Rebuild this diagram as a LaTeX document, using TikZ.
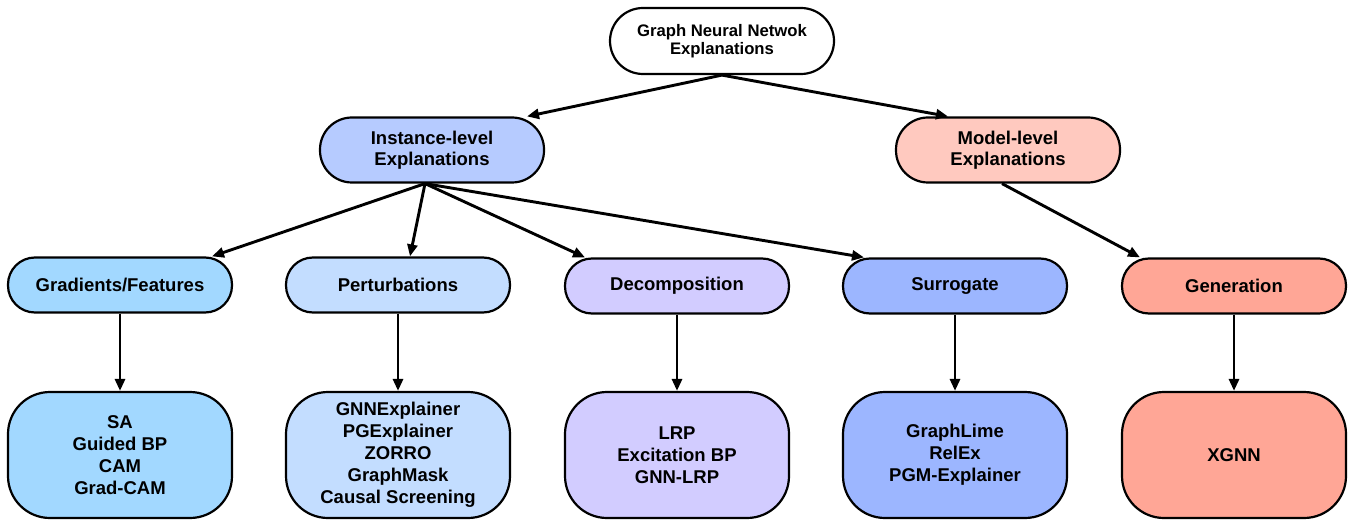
\documentclass[tikz,border=0pt]{standalone}
\usepackage{fontspec}
\setmainfont{Liberation Sans}
\usetikzlibrary{arrows.meta}
\definecolor{cInst}{HTML}{B6CBFF}
\definecolor{cModel}{HTML}{FFC9BF}
\definecolor{cGrad}{HTML}{A2D8FF}
\definecolor{cPert}{HTML}{C3DDFF}
\definecolor{cDec}{HTML}{D2CCFF}
\definecolor{cSur}{HTML}{9CB6FF}
\definecolor{cGen}{HTML}{FFA696}
\tikzset{
  box/.style={draw=black, line width=2.2pt, minimum width=224pt, align=center,
    font=\fontsize{18.5}{22}\selectfont\bfseries, inner sep=0pt},
  topbox/.style={box, minimum height=66pt, rounded corners=33pt,
    font=\fontsize{16.7}{18.5}\selectfont\bfseries},
  midbox/.style={box, minimum height=65pt, rounded corners=32pt,
    font=\fontsize{18.5}{21}\selectfont\bfseries},
  catbox/.style={box, minimum height=55pt, rounded corners=27pt},
  leafbox/.style={box, minimum height=126pt, rounded corners=42pt},
  conn/.style={line width=2.9pt, -{Triangle[length=12pt,width=10pt]}},
}
\begin{document}
\begin{tikzpicture}[x=1pt,y=-1pt]
\useasboundingbox (0,0) rectangle (1348,521);
\node[topbox, fill=white] (top) at (722,41) {Graph Neural Netwok\\Explanations};
\node[midbox, fill=cInst] (inst) at (432,150) {Instance-level\\Explanations};
\node[midbox, fill=cModel] (model) at (1008,150) {Model-level\\Explanations};

\node[catbox, fill=cGrad] (grad) at (120,285) {Gradients/Features};
\node[catbox, fill=cPert] (pert) at (398,285) {Perturbations};
\node[catbox, fill=cDec] (dec) at (677,286) {Decomposition};
\node[catbox, fill=cSur] (sur) at (955,286) {Surrogate};
\node[catbox, fill=cGen] (gen) at (1234,286) {Generation};

\node[leafbox, fill=cGrad] (gradl) at (120,455) {SA\\Guided BP\\CAM\\Grad-CAM};
\node[leafbox, fill=cPert] (pertl) at (398,455) {GNNExplainer\\PGExplainer\\ZORRO\\GraphMask\\Causal Screening};
\node[leafbox, fill=cDec] (decl) at (677,455) {LRP\\Excitation BP\\GNN-LRP};
\node[leafbox, fill=cSur] (surl) at (955,455) {GraphLime\\RelEx\\PGM-Explainer};
\node[leafbox, fill=cGen] (genl) at (1234,455) {XGNN};

\draw[conn] (top.south) -- ([xshift=95pt]inst.north);
\draw[conn] (top.south) -- ([xshift=-60pt]model.north);

\draw[conn] ([xshift=-7pt]inst.south) -- ([xshift=92pt]grad.north);
\draw[conn] ([xshift=-7pt]inst.south) -- ([xshift=12pt]pert.north);
\draw[conn] ([xshift=-7pt]inst.south) -- ([xshift=-92pt]dec.north);
\draw[conn] ([xshift=-7pt]inst.south) -- ([xshift=-91pt]sur.north);
\draw[conn] ([xshift=-6pt]model.south) -- ([xshift=-94pt]gen.north);

\draw[conn] (grad) -- (gradl);
\draw[conn] (pert) -- (pertl);
\draw[conn] (dec) -- (decl);
\draw[conn] (sur) -- (surl);
\draw[conn] (gen) -- (genl);
\end{tikzpicture}
\end{document}
